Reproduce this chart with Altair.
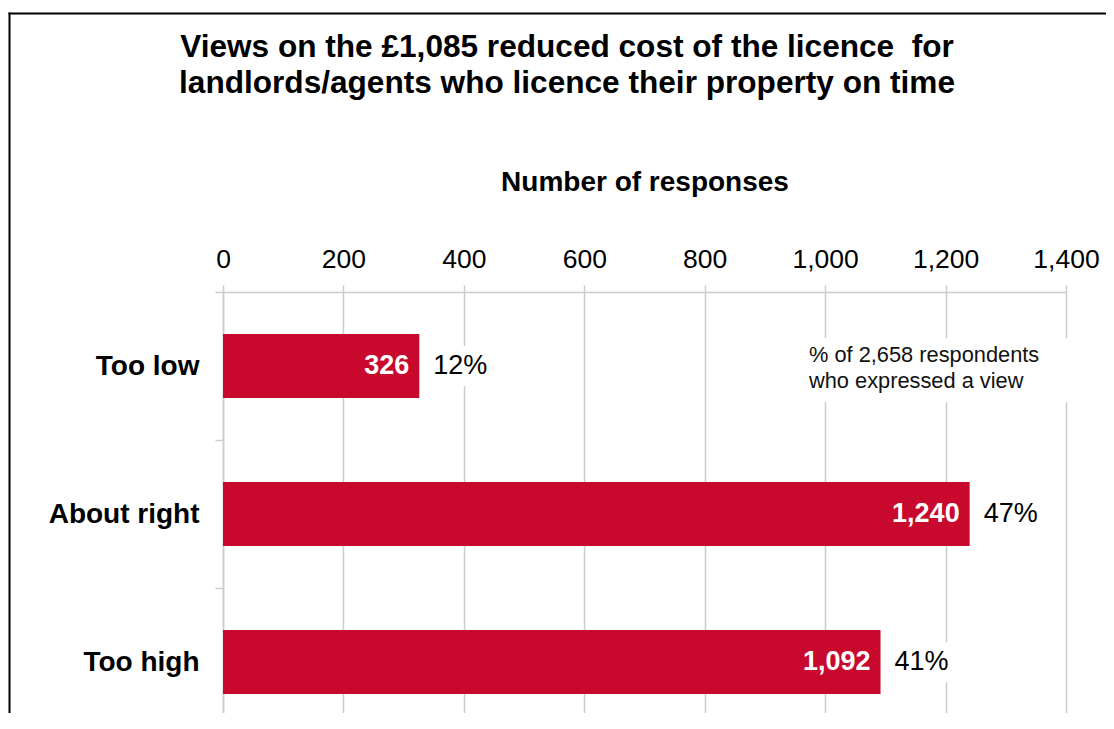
import altair as alt
import pandas as pd

categories = ["Too low", "About right", "Too high"]
responses = [326, 1240, 1092]
percents = [12, 47, 41]
x_ticks = [0, 200, 400, 600, 800, 1000, 1200, 1400]

title_lines = ["Views on the £1,085 reduced cost of the licence\u00a0 for",
               "landlords/agents who licence their property on time"]
note_lines = ["% of 2,658 respondents", "who expressed a view"]

df = pd.DataFrame({"cat": categories, "n": responses, "pct": percents})
df["pct_label"] = df["pct"].astype(str) + "%"

FONT = "Liberation Sans"
RED = "#C9082E"
GRID = "#CCCCCC"

x_enc = alt.X("n:Q", scale=alt.Scale(domain=[0, 1400], nice=False),
              axis=alt.Axis(orient="top", values=x_ticks, format=",d",
                            title="Number of responses", titleFont=FONT,
                            titleFontSize=28, titleFontWeight="bold",
                            titleColor="black", titlePadding=50,
                            labelFont=FONT, labelFontSize=26.5, labelColor="black",
                            labelFlush=False, labelOverlap=False,
                            labelPadding=12, tickSize=7, tickColor=GRID, tickWidth=1.5,
                            domainColor=GRID, domainWidth=1.5,
                            grid=True, gridColor=GRID, gridWidth=1.5))
y_enc = alt.Y("cat:N", sort=categories,
              scale=alt.Scale(range=[0, 444], paddingInner=0, paddingOuter=0),
              axis=alt.Axis(title=None, labelFont=FONT, labelFontSize=28,
                            labelFontWeight="bold", labelColor="black",
                            labelPadding=16, tickBand="extent", tickSize=8,
                            tickColor=GRID, tickWidth=1.5, domainColor=GRID,
                            domainWidth=1.5, grid=False))

base = alt.Chart(df)

pct_bg = base.mark_bar(height=40, color="white", xOffset=8, x2Offset=76).encode(
    x=x_enc, x2="n:Q", y=y_enc)
bars = base.mark_bar(height=64, color=RED).encode(x=x_enc, y=y_enc)
inner = base.mark_text(align="right", baseline="middle", dx=-10, font=FONT,
                       fontSize=27, fontWeight="bold", color="white").encode(
    x=x_enc, y=y_enc, text=alt.Text("n:Q", format=",d"))
outer = base.mark_text(align="left", baseline="middle", dx=14, font=FONT,
                       fontSize=27, color="black").encode(
    x=x_enc, y=y_enc, text="pct_label:N")

note_df = pd.DataFrame({"line": note_lines})
title_df = pd.DataFrame({"line": title_lines})
one = note_df.head(1)
note_bg = alt.Chart(one).mark_rect(color="white").encode(
    x=alt.value(577), x2=alt.value(855), y=alt.value(46), y2=alt.value(110))
note1 = alt.Chart(note_df.iloc[[0]]).mark_text(
    align="left", baseline="middle", font=FONT, fontSize=21.8, color="#111111").encode(
    x=alt.value(586), y=alt.value(63), text="line:N")
note2 = alt.Chart(note_df.iloc[[1]]).mark_text(
    align="left", baseline="middle", font=FONT, fontSize=21.8, color="#111111").encode(
    x=alt.value(586), y=alt.value(89), text="line:N")

title1 = alt.Chart(title_df.iloc[[0]]).mark_text(
    align="center", baseline="middle", font=FONT, fontSize=31.6, fontWeight="bold",
    color="black").encode(x=alt.value(344), y=alt.value(-244), text="line:N")
title2 = alt.Chart(title_df.iloc[[1]]).mark_text(
    align="center", baseline="middle", font=FONT, fontSize=31.6, fontWeight="bold",
    color="black").encode(x=alt.value(344), y=alt.value(-208), text="line:N")

frame_l = alt.Chart(one).mark_rule(color="black", strokeWidth=2).encode(
    x=alt.value(-213.5), y=alt.value(-279.5), y2=alt.value(460))
frame_t = alt.Chart(one).mark_rule(color="black", strokeWidth=2).encode(
    x=alt.value(-214.5), x2=alt.value(900), y=alt.value(-278.5))

chart = alt.layer(pct_bg, bars, inner, outer, note_bg, note1, note2,
                  title1, title2, frame_l, frame_t).properties(
    width=843, height=421,
    autosize=alt.AutoSizeParams(type="none"),
    padding={"left": 215, "top": 284, "right": 40, "bottom": 0},
).configure_view(stroke=None).configure(background="white")

chart.save("out.html", embed_options={"renderer": "svg", "actions": False})
